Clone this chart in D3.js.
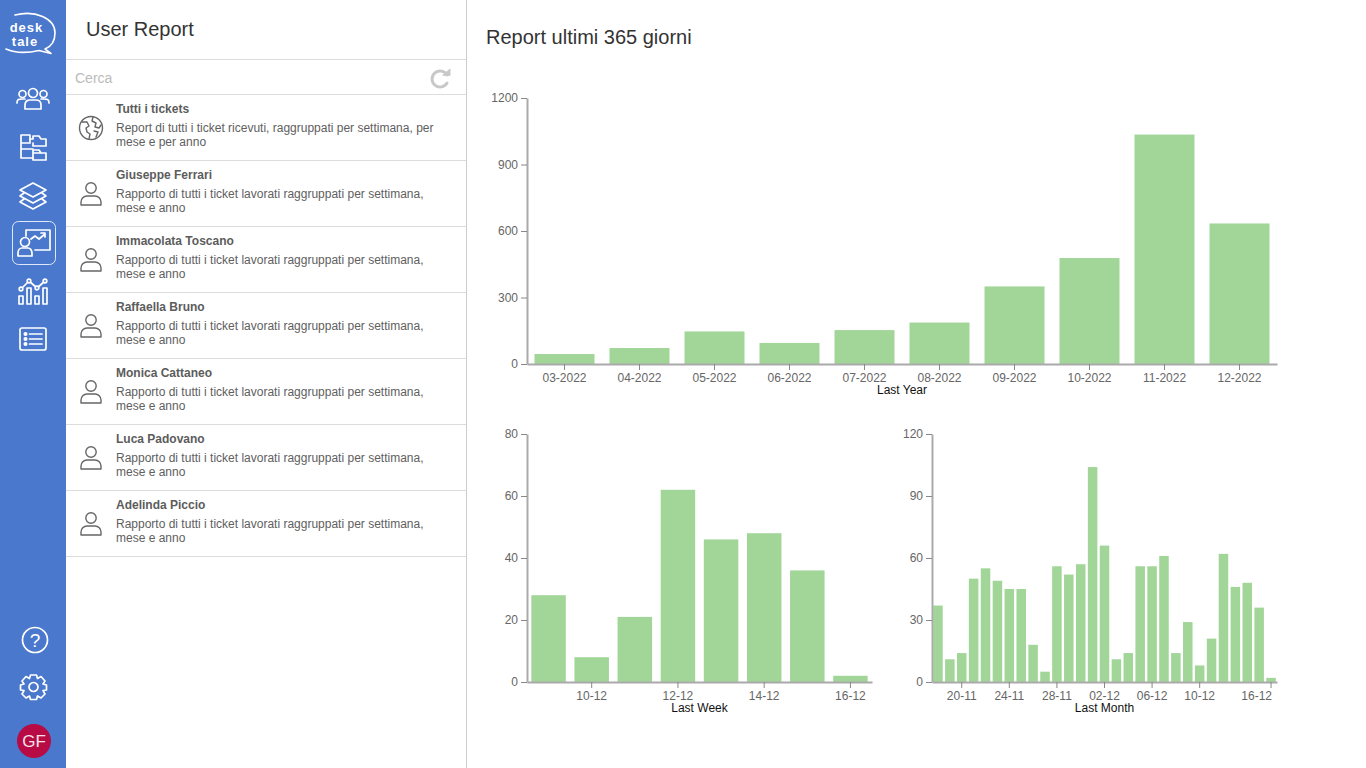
<!DOCTYPE html>
<html>
<head>
<meta charset="utf-8">
<title>User Report</title>
<script src="https://cdn.jsdelivr.net/npm/d3@7"></script>
<style>
  html, body { margin: 0; padding: 0; background: #fff; overflow: hidden; }
  svg { display: block; font-family: "Liberation Sans", Arial, sans-serif; }
  .tick text { fill: #666; font-size: 12px; }
</style>
</head>
<body>
<div id="page"></div>
<script>
// chart data
var yearCategories = ['03-2022', '04-2022', '05-2022', '06-2022', '07-2022', '08-2022', '09-2022', '10-2022', '11-2022', '12-2022'];
var yearValues = [45, 72, 147, 95, 153, 187, 350, 478, 1035, 634];
var yearTicks = [0, 300, 600, 900, 1200];

var weekCategories = ['09-12', '10-12', '11-12', '12-12', '13-12', '14-12', '15-12', '16-12'];
var weekValues = [28, 8, 21, 62, 46, 48, 36, 2];
var weekTicks = [0, 20, 40, 60, 80];
var weekLabels = ['10-12', '12-12', '14-12', '16-12'];

var monthCategories = ['18-11', '19-11', '20-11', '21-11', '22-11', '23-11', '24-11', '25-11', '26-11', '27-11', '28-11', '29-11', '30-11',
  '01-12', '02-12', '03-12', '04-12', '05-12', '06-12', '07-12', '08-12', '09-12', '10-12', '11-12', '12-12', '13-12', '14-12', '15-12', '16-12'];
var monthValues = [37, 11, 14, 50, 55, 49, 45, 45, 18, 5, 56, 52, 57, 104, 66, 11, 14, 56, 56, 61, 14, 29, 8, 21, 62, 46, 48, 36, 2];
var monthTicks = [0, 30, 60, 90, 120];
var monthLabels = ['20-11', '24-11', '28-11', '02-12', '06-12', '10-12', '16-12'];

// side list
var reportNames = ['Tutti i tickets', 'Giuseppe Ferrari', 'Immacolata Toscano', 'Raffaella Bruno', 'Monica Cattaneo', 'Luca Padovano', 'Adelinda Piccio'];
var allLines = ['Report di tutti i ticket ricevuti, raggruppati per settimana, per', 'mese e per anno'];
var userLines = ['Rapporto di tutti i ticket lavorati raggruppati per settimana,', 'mese e anno'];

var barColour = '#a2d699';
var axisColour = '#aaa';
var blue = '#4a78cc';

var svg = d3.select('#page').append('svg').attr('width', 1366).attr('height', 768);

function label(parent, x, y, str, size, colour, weight) {
  return parent.append('text').attr('x', x).attr('y', y).text(str)
    .attr('font-size', size).attr('fill', colour).attr('font-weight', weight || 'normal');
}

function hline(x1, x2, y, colour) {
  svg.append('line').attr('x1', x1).attr('x2', x2).attr('y1', y).attr('y2', y).attr('stroke', colour);
}

// sidebar
svg.append('rect').attr('width', 66).attr('height', 768).attr('fill', blue);

// white line icon group
function icon(x, y, colour) {
  return svg.append('g').attr('transform', 'translate(' + x + ',' + y + ')')
    .attr('fill', 'none').attr('stroke', colour || '#fff').attr('stroke-width', 1.7)
    .attr('stroke-linejoin', 'round').attr('stroke-linecap', 'round');
}

var logo = icon(0, 0);
logo.append('path').attr('stroke-width', 1.6)
  .attr('d', 'M15 15C35 10 55 18 55 33C55 42 50 47 45 49L51 53.5L39 50.5C28 53 15 53 6 49');
logo.append('text').attr('x', 26.5).attr('y', 31.5).attr('text-anchor', 'middle').text('desk')
  .attr('font-size', 13).attr('letter-spacing', 1).attr('font-weight', 'bold').attr('fill', '#fff').attr('stroke', 'none');
logo.append('text').attr('x', 25).attr('y', 45.5).attr('text-anchor', 'middle').text('tale')
  .attr('font-size', 13).attr('letter-spacing', 1).attr('font-weight', 'bold').attr('fill', '#fff').attr('stroke', 'none');

var users = icon(33, 99);
users.append('circle').attr('cy', -6).attr('r', 4.5);
users.append('circle').attr('cx', -10.5).attr('cy', -5).attr('r', 3.5);
users.append('circle').attr('cx', 10.5).attr('cy', -5).attr('r', 3.5);
users.append('path').attr('d', 'M-8 10V6C-8 2 -5 1 -3 1H3C5 1 8 2 8 6V10Z');
users.append('path').attr('d', 'M-16 4C-16 0 -14 0 -11 0H-8M16 4C16 0 14 0 11 0H8');

var folders = icon(33, 147);
folders.append('path').attr('d', 'M-12 -12H-3V-4H-12ZM-12 -4V11H0M-12 2H0');
folders.append('path').attr('d', 'M-3 -8H0V-11H6L8 -8H13V-1H0V-4');
folders.append('path').attr('d', 'M0 6H13V13H0ZM0 6V3H6L8 6');

var layers = icon(33, 195);
layers.append('path').attr('d', 'M0 -12L13 -5L0 2L-13 -5Z');
layers.append('path').attr('d', 'M-9 -2L-13 1L0 8L13 1L9 -2');
layers.append('path').attr('d', 'M-9 4L-13 7L0 14L13 7L9 4');

svg.append('rect').attr('x', 12.5).attr('y', 221.5).attr('width', 43).attr('height', 43).attr('rx', 6)
  .attr('fill', 'none').attr('stroke', '#dfe8f7');
var reportIcon = icon(33, 243);
reportIcon.append('circle').attr('cx', -8).attr('cy', -1).attr('r', 4.5);
reportIcon.append('path').attr('d', 'M-15 13V10C-15 7 -13 5 -11 5H-5C-3 5 -1 7 -1 10V13Z');
reportIcon.append('path').attr('d', 'M-7 -7V-13H17V7H2');
reportIcon.append('path').attr('d', 'M-2 -4L2 -7L6 -4L12 -9M8 -10H12V-6');

var lineIcon = icon(33, 291);
lineIcon.append('path').attr('d', 'M-12 -2L-4 -10L4 -3L12 -10');
[[-12, -2], [-4, -10], [4, -3], [12, -10]].forEach(function(p) {
  lineIcon.append('circle').attr('cx', p[0]).attr('cy', p[1]).attr('r', 1.8).attr('fill', blue);
});
lineIcon.append('path').attr('d', 'M-14 5H-10V13H-14ZM-6 -3H-2V13H-6ZM2 5H6V13H2ZM10 -3H14V13H10Z');

var listIcon = icon(33, 339);
listIcon.append('rect').attr('x', -13).attr('y', -11).attr('width', 26).attr('height', 22).attr('rx', 2);
[-5, 0, 5].forEach(function(y) {
  listIcon.append('circle').attr('cx', -7.5).attr('cy', y).attr('r', 1.2).attr('fill', '#fff');
  listIcon.append('line').attr('x1', -3.5).attr('x2', 9).attr('y1', y).attr('y2', y);
});

var help = icon(35, 640);
help.append('circle').attr('r', 12.5);
help.append('text').attr('y', 7).attr('text-anchor', 'middle').text('?')
  .attr('font-size', 19).attr('fill', '#fff').attr('stroke', 'none');

var gear = icon(33.5, 687);
gear.append('circle').attr('r', 4.5);
gear.append('path').attr('d', 'M-3 -12H3L4 -8.5L7.5 -10.5L11.5 -6L9.5 -3L13 -2V3L9.5 3.5L11.5 7L7.5 11L4 9L3 12.5H-3L-4 9L-7.5 11L-11.5 7L-9.5 3.5L-13 3V-2L-9.5 -3L-11.5 -6L-7.5 -10.5L-4 -8.5Z');

svg.append('circle').attr('cx', 34).attr('cy', 741).attr('r', 17).attr('fill', '#b80a45');
label(svg, 34, 747, 'GF', 17, '#f3e3e8').attr('text-anchor', 'middle');

// list panel
svg.append('line').attr('x1', 466.5).attr('x2', 466.5).attr('y1', 0).attr('y2', 768).attr('stroke', '#ccc');
label(svg, 86, 36, 'User Report', 20, '#333');
hline(66, 466, 59.5, '#ddd');
label(svg, 75, 83, 'Cerca', 14, '#bbb');
hline(66, 466, 94.5, '#ddd');

var refresh = icon(440, 78, '#c8c8c8').attr('stroke-width', 3);
refresh.append('path').attr('d', 'M7 -3A8 8 0 1 0 7 5');
refresh.append('path').attr('fill', '#c8c8c8').attr('stroke-width', 1).attr('d', 'M3 -3L10 -9V-3Z');

reportNames.forEach(function(name, i) {
  var top = 94 + i * 66;
  var lines = i === 0 ? allLines : userLines;
  label(svg, 116, top + 19, name, 12, '#5c5c5c', 'bold');
  label(svg, 116, top + 38, lines[0], 12, '#606060');
  label(svg, 116, top + 52, lines[1], 12, '#606060');
  hline(66, 466, top + 66.5, '#ddd');

  var ic = icon(91, top + 34, '#666').attr('stroke-width', 1.4);
  if (i === 0) {
    ic.append('circle').attr('r', 11.5);
    ic.append('path').attr('d', 'M-9 -6L-4 -6L-2 -2L-5 0L-4 4L-1 6L-2 11M2 -11L1 -7L5 -5L4 -1L8 0L10 -3M3 3L7 4L5 9');
  } else {
    ic.append('circle').attr('cy', -6).attr('r', 5.2);
    ic.append('path').attr('d', 'M-10 11V8A6 6 0 0 1 -4 2H4A6 6 0 0 1 10 8V11Z');
  }
});

label(svg, 486, 44, 'Report ultimi 365 giorni', 20, '#333');

// one bar chart, frame is its place on the page
function drawBarChart(frame, categories, values, maxValue, yTicks, xLabels, caption) {
  var x = d3.scaleBand().domain(categories)
    .range([frame.left, frame.right]).paddingInner(0.2).paddingOuter(0.1);
  var y = d3.scaleLinear().domain([0, maxValue]).range([frame.bottom, frame.top]);

  var g = svg.append('g');

  g.selectAll('rect.bar').data(values).enter().append('rect')
    .attr('class', 'bar')
    .attr('x', function(d, i) { return x(categories[i]); })
    .attr('y', function(d) { return y(d); })
    .attr('width', x.bandwidth())
    .attr('height', function(d) { return y(0) - y(d); })
    .attr('fill', barColour);

  var yAxis = g.append('g').attr('transform', 'translate(' + frame.left + ',0)')
    .call(d3.axisLeft(y).tickValues(yTicks).tickFormat(d3.format('d')).tickSizeOuter(0));
  var xAxis = g.append('g').attr('transform', 'translate(0,' + frame.bottom + ')')
    .call(d3.axisBottom(x).tickValues(xLabels).tickSizeOuter(0));

  [yAxis, xAxis].forEach(function(a) {
    a.select('.domain').attr('stroke', axisColour).attr('stroke-width', 2);
    a.selectAll('.tick line').attr('stroke', '#888');
    a.selectAll('.tick text').style('font-family', '"Liberation Sans", Arial, sans-serif');
  });

  label(g, (frame.left + frame.right) / 2 + frame.captionShift, frame.bottom + 30, caption, 12, '#111')
    .attr('text-anchor', 'middle');

  return xAxis;
}

drawBarChart({left: 527, right: 1277, top: 98, bottom: 364, captionShift: 0},
  yearCategories, yearValues, 1200, yearTicks, yearCategories, 'Last Year');
drawBarChart({left: 527, right: 872, top: 434, bottom: 682, captionShift: 0},
  weekCategories, weekValues, 80, weekTicks, weekLabels, 'Last Week');
var monthAxis = drawBarChart({left: 932, right: 1277, top: 434, bottom: 682, captionShift: 0},
  monthCategories, monthValues, 120, monthTicks, monthLabels, 'Last Month');

// last month label sits left of its tick
monthAxis.selectAll('.tick text')
  .filter(function(d) { return d === '16-12'; })
  .attr('text-anchor', 'end').attr('x', 1);
</script>
</body>
</html>
